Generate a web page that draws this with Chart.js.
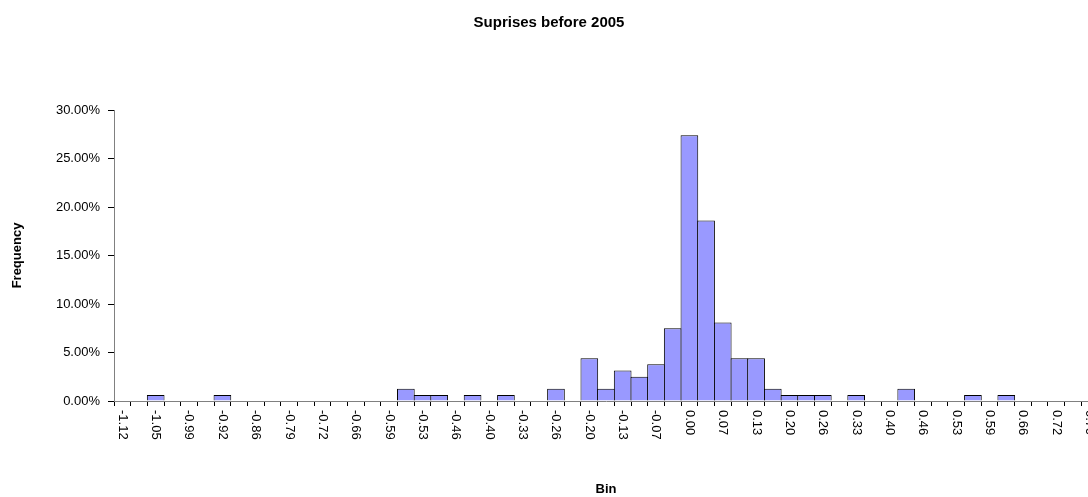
<!DOCTYPE html>
<html>
<head>
<meta charset="utf-8">
<title>Suprises before 2005</title>
<script src="https://cdn.jsdelivr.net/npm/chart.js@4"></script>
<style>
  html, body { margin: 0; padding: 0; overflow: hidden; background: #ffffff; }
  #wrap { width: 1098px; height: 497px; }
</style>
</head>
<body>
<div id="wrap"><canvas id="chart" width="1098" height="497"></canvas></div>
<script>
// Histogram bins (upper bound of each bin)
const binLabels = [
  "-1.12", "-1.09", "-1.05", "-1.02", "-0.99", "-0.95", "-0.92", "-0.89", "-0.86", "-0.82",
  "-0.79", "-0.76", "-0.72", "-0.69", "-0.66", "-0.63", "-0.59", "-0.56", "-0.53", "-0.49",
  "-0.46", "-0.43", "-0.40", "-0.36", "-0.33", "-0.30", "-0.26", "-0.23", "-0.20", "-0.16",
  "-0.13", "-0.10", "-0.07", "-0.03", "0.00", "0.03", "0.07", "0.10", "0.13", "0.16",
  "0.20", "0.23", "0.26", "0.30", "0.33", "0.36", "0.40", "0.43", "0.46", "0.49",
  "0.53", "0.56", "0.59", "0.63", "0.66", "0.69", "0.72", "0.76", "0.79"
];

// Share of surprises falling in each bin, in percent
const frequencyPct = [
  0, 0, 0.63, 0, 0, 0, 0.63, 0, 0, 0,
  0, 0, 0, 0, 0, 0, 0, 1.27, 0.63, 0.63,
  0, 0.63, 0, 0.63, 0, 0, 1.27, 0, 4.4, 1.27,
  3.15, 2.5, 3.8, 7.5, 27.4, 18.6, 8.1, 4.4, 4.4, 1.27,
  0.63, 0.63, 0.63, 0, 0.63, 0, 0, 1.27, 0, 0,
  0, 0.63, 0, 0.63, 0, 0, 0, 0, 0
];

// Value axis range and step, in percent
const yAxisMin = 0;
const yAxisMax = 30;
const yAxisStep = 5;

// Every other bin carries a printed label
const labelEvery = 2;

const FONT_FAMILY = '"Liberation Sans", Arial, Helvetica, sans-serif';

// Bin labels are written top-to-bottom (rotated clockwise) under each labelled bin
const verticalBinLabels = {
  id: 'verticalBinLabels',
  afterDraw(chart) {
    const xScale = chart.scales.x;
    const ctx = chart.ctx;
    ctx.save();
    ctx.font = '13px ' + FONT_FAMILY;
    ctx.fillStyle = '#000000';
    ctx.textAlign = 'left';
    ctx.textBaseline = 'middle';
    binLabels.forEach((label, i) => {
      if (i % labelEvery !== 0) return;
      const x = xScale.getPixelForValue(i);
      ctx.save();
      ctx.translate(x, xScale.top + 9);
      ctx.rotate(Math.PI / 2);
      ctx.fillText(label, 0, 0);
      ctx.restore();
    });
    ctx.restore();
  }
};

new Chart(document.getElementById('chart'), {
  type: 'bar',
  data: {
    labels: binLabels,
    datasets: [{
      label: 'Frequency',
      data: frequencyPct,
      backgroundColor: '#9999FF',
      borderColor: '#000000',
      borderWidth: 1,
      barPercentage: 1.06,
      categoryPercentage: 1
    }]
  },
  options: {
    responsive: false,
    animation: false,
    devicePixelRatio: 1,
    layout: { padding: { left: 0, right: 0, top: 0, bottom: 0 } },
    plugins: {
      legend: { display: false },
      tooltip: { enabled: false },
      title: {
        display: true,
        text: 'Suprises before 2005',
        color: '#000000',
        font: { family: FONT_FAMILY, size: 15, weight: 'bold' },
        padding: { top: 14, bottom: 78 }
      }
    },
    scales: {
      x: {
        offset: true,
        grid: { offset: true, drawOnChartArea: false, tickLength: 5, color: '#000000' },
        border: { color: '#808080', width: 1 },
        ticks: { display: false },
        title: {
          display: true,
          text: 'Bin',
          color: '#000000',
          font: { family: FONT_FAMILY, size: 13, weight: 'bold' },
          padding: { top: 0, bottom: 0 }
        },
        afterFit(scale) { scale.height = 96; }
      },
      y: {
        min: yAxisMin,
        max: yAxisMax,
        ticks: {
          stepSize: yAxisStep,
          color: '#000000',
          font: { family: FONT_FAMILY, size: 13 },
          padding: 8,
          callback: (v) => v.toFixed(2) + '%'
        },
        grid: { drawOnChartArea: false, tickLength: 6, color: '#000000' },
        border: { color: '#808080', width: 1 },
        title: {
          display: true,
          text: 'Frequency',
          color: '#000000',
          font: { family: FONT_FAMILY, size: 13, weight: 'bold' },
          padding: { top: 10, bottom: 0 }
        },
        afterFit(scale) { scale.width = 114; }
      }
    }
  },
  plugins: [verticalBinLabels]
});
</script>
</body>
</html>
